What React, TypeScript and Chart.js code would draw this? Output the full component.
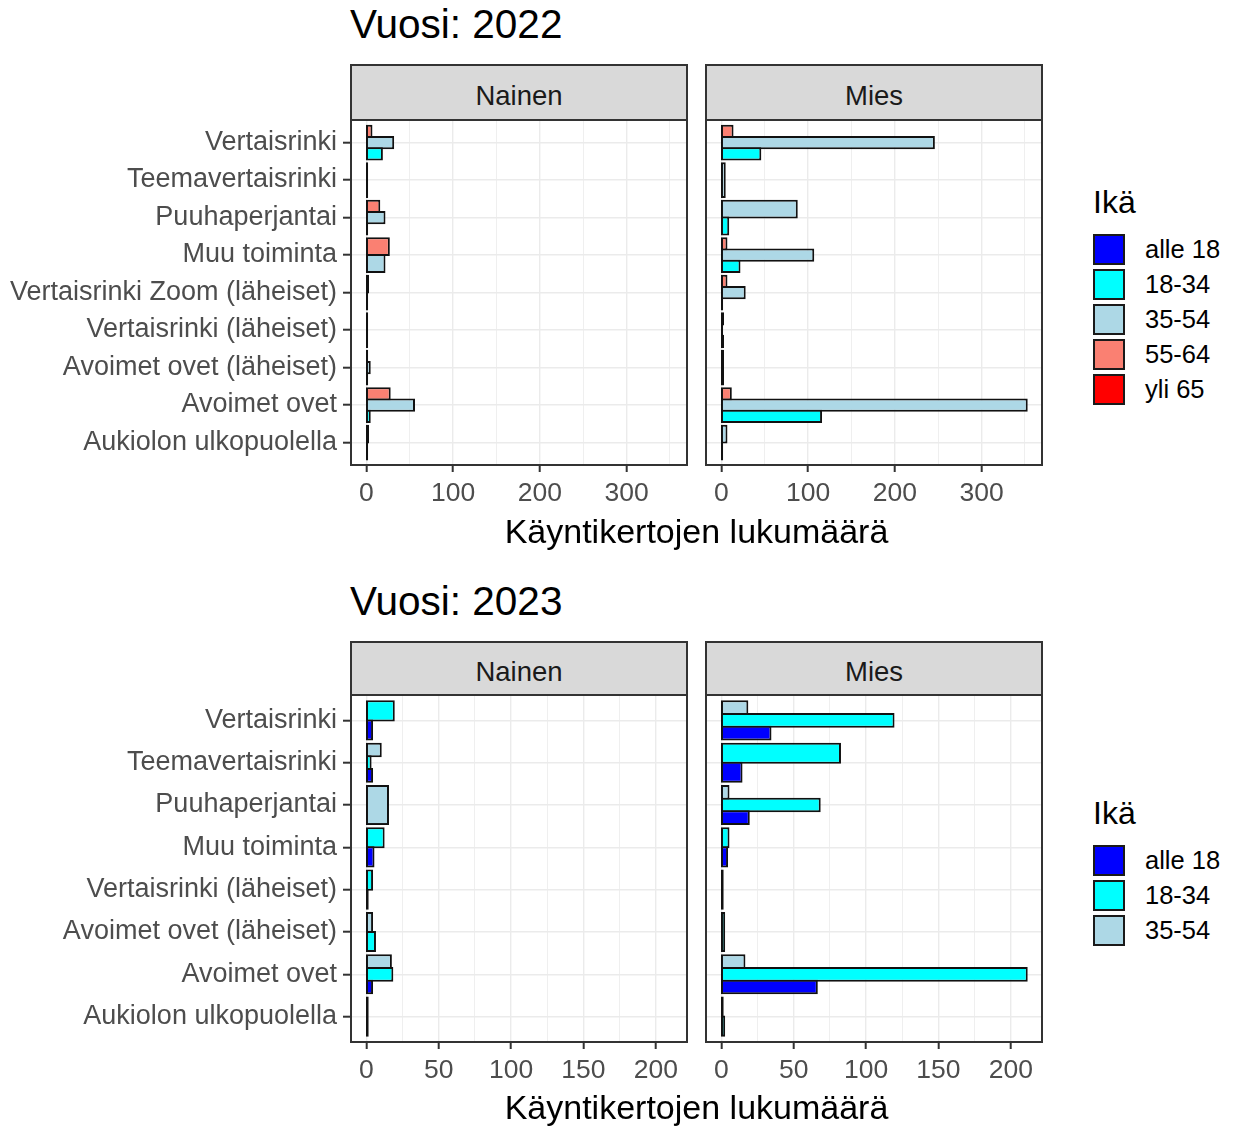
import React, { useEffect, useRef } from 'react';
import { Chart, registerables, BarController } from 'chart.js';

Chart.register(...registerables);

// Bar controller that places each bar between its own y0..y1 band (ggplot-style dodge
// where only the age groups present in a category share its width) and mimics a
// centred 2px outline.
class DodgeBarController extends (BarController as any) {
  static id = 'dodgeBar';
  _calculateBarIndexPixels(index: number, ruler: any) {
    const scale = ruler.scale;
    const raw: any = (this as any).getDataset().data[index];
    const p0 = scale.getPixelForValue(raw.y0);
    const p1 = scale.getPixelForValue(raw.y1);
    const lo = Math.min(p0, p1) - 1;
    const hi = Math.max(p0, p1) + 1;
    return { base: lo, head: hi, center: (lo + hi) / 2, size: hi - lo };
  }
  _calculateBarValuePixels(index: number) {
    const r: any = super._calculateBarValuePixels(index);
    const dir = r.head >= r.base ? 1 : -1;
    const base = r.base - dir;
    const head = r.head + dir;
    return { size: head - base, base, head, center: (base + head) / 2 };
  }
}
Chart.register(DodgeBarController as any);

const FONT = "'Liberation Sans', Arial, Helvetica, sans-serif";
Chart.defaults.font.family = FONT;

// ---------------- DATA ----------------
const ageGroups = ['alle 18', '18-34', '35-54', '55-64', 'yli 65'];
const ageColors = ['#0000FF', '#00FFFF', '#ADD8E6', '#FA8072', '#FF0000'];
const legendGroups2022 = ['alle 18', '18-34', '35-54', '55-64', 'yli 65'];
const legendGroups2023 = ['alle 18', '18-34', '35-54'];

const facets = ['Nainen', 'Mies'];
const xTitle = 'Käyntikertojen lukumäärä';
const legendTitle = 'Ikä';

// categories listed top to bottom
const activities2022 = [
  'Vertaisrinki',
  'Teemavertaisrinki',
  'Puuhaperjantai',
  'Muu toiminta',
  'Vertaisrinki Zoom (läheiset)',
  'Vertaisrinki (läheiset)',
  'Avoimet ovet (läheiset)',
  'Avoimet ovet',
  'Aukiolon ulkopuolella',
];
const activities2023 = [
  'Vertaisrinki',
  'Teemavertaisrinki',
  'Puuhaperjantai',
  'Muu toiminta',
  'Vertaisrinki (läheiset)',
  'Avoimet ovet (läheiset)',
  'Avoimet ovet',
  'Aukiolon ulkopuolella',
];

// 2022 – Nainen
const nainen2022_alle18 = [null, null, null, null, null, null, null, null, null];
const nainen2022_18_34 = [18, null, 1, null, 1, null, 1, 4, 1];
const nainen2022_35_54 = [31, 1, 21, 21, 2, 1, 4, 55, 2];
const nainen2022_55_64 = [6, null, 15, 26, null, null, null, 27, null];
const nainen2022_yli65 = [null, null, null, null, null, null, 1, null, null];

// 2022 – Mies
const mies2022_alle18 = [null, null, null, null, null, null, null, null, null];
const mies2022_18_34 = [45, null, 8, 21, 1, 2, null, 115, 1];
const mies2022_35_54 = [245, 4, 87, 106, 27, 1, 2, 352, 6];
const mies2022_55_64 = [13, null, null, 6, 6, 2, null, 11, null];
const mies2022_yli65 = [null, null, null, null, null, null, null, null, null];

// 2023 – Nainen
const nainen2023_alle18 = [4, 4, null, 5, 1, null, 4, null];
const nainen2023_18_34 = [19, 3, null, 12, 4, 6, 18, 1];
const nainen2023_35_54 = [null, 10, 15, null, null, 4, 17, null];

// 2023 – Mies
const mies2023_alle18 = [34, 14, 19, 4, null, null, 66, null];
const mies2023_18_34 = [119, 82, 68, 5, 1, 2, 211, 2];
const mies2023_35_54 = [18, null, 5, null, null, null, 16, 1];

// x axis ticks
const xMajor2022 = [0, 100, 200, 300];
const xMinor2022 = [50, 150, 250, 350];
const xMajor2023 = [0, 50, 100, 150, 200];
const xMinor2023 = [25, 75, 125, 175];

const none2023 = activities2023.map(() => null);

// ---------------- LAYOUT ----------------
type Rect = { x: number; y: number; w: number; h: number };

type Series = (number | null)[][];

function buildDatasets(cats: string[], series: Series) {
  const N = cats.length;
  const datasets: any[] = ageGroups.map((g, gi) => ({
    type: 'dodgeBar',
    label: g,
    indexAxis: 'y',
    backgroundColor: ageColors[gi],
    borderColor: '#111111',
    borderWidth: 2,
    borderSkipped: false,
    inflateAmount: 0,
    data: [] as any[],
  }));
  cats.forEach((_, k) => {
    const present = series
      .map((s, gi) => (s[k] !== null && s[k] !== undefined ? gi : -1))
      .filter((gi) => gi >= 0);
    const n = present.length;
    const center = N - k;
    present.forEach((gi, j) => {
      const y0 = center - 0.45 + (j * 0.9) / n;
      const y1 = y0 + 0.9 / n;
      datasets[gi].data.push({ x: series[gi][k], y: (y0 + y1) / 2, y0, y1 });
    });
  });
  return datasets.filter((d) => d.data.length > 0);
}

const panelBorder = {
  id: 'panelBorder',
  afterDraw(chart: any) {
    const { ctx, chartArea: a } = chart;
    ctx.save();
    ctx.strokeStyle = '#333333';
    ctx.lineWidth = 2;
    ctx.strokeRect(a.left, a.top, a.right - a.left, a.bottom - a.top);
    ctx.restore();
  },
};

const PAD_TOP = 25;
const X_AXIS_H = 45;
const PAD_BOTTOM = 5;
const SIDE = 20;

function PanelChart(props: {
  rect: Rect;
  cats: string[];
  series: Series;
  xMax: number;
  major: number[];
  minor: number[];
  showY: boolean;
}) {
  const { rect, cats, series, xMax, major, minor, showY } = props;
  const ref = useRef<HTMLCanvasElement>(null);
  const canvasLeft = showY ? 0 : rect.x - SIDE;
  const canvasTop = rect.y - PAD_TOP;
  const cw = rect.x + rect.w + SIDE - canvasLeft;
  const ch = PAD_TOP + rect.h + X_AXIS_H + PAD_BOTTOM;

  useEffect(() => {
    if (!ref.current) return;
    const N = cats.length;
    const xTicks = [...major, ...minor].sort((a, b) => a - b);
    const isMajor = (v: number) => major.includes(v);
    const chart = new Chart(ref.current, {
      type: 'bar',
      data: { datasets: buildDatasets(cats, series) as any },
      options: {
        indexAxis: 'y',
        animation: false,
        responsive: false,
        devicePixelRatio: 1,
        layout: {
          padding: { top: PAD_TOP, bottom: PAD_BOTTOM, left: showY ? 0 : SIDE, right: SIDE },
        },
        plugins: { legend: { display: false }, tooltip: { enabled: false }, title: { display: false } },
        scales: {
          x: {
            type: 'linear',
            offset: false,
            min: -0.05 * xMax,
            max: 1.05 * xMax,
            afterBuildTicks: (s: any) => {
              s.ticks = xTicks.map((v) => ({ value: v }));
            },
            afterFit: (s: any) => {
              s.height = X_AXIS_H;
            },
            border: { display: false },
            grid: {
              offset: false,
              color: '#EBEBEB',
              lineWidth: (c: any) => (isMajor(c.tick?.value) ? 1.4 : 0.8),
              drawTicks: true,
              tickLength: 7,
              tickWidth: 2,
              tickColor: (c: any) => (isMajor(c.tick?.value) ? '#333333' : 'rgba(0,0,0,0)'),
            },
            ticks: {
              autoSkip: false,
              maxRotation: 0,
              padding: 6,
              color: '#4D4D4D',
              font: { size: 26.5, family: FONT },
              callback: (v: any) => (isMajor(v) ? String(v) : ''),
            },
          },
          y: {
            type: 'linear',
            offset: false,
            min: 0.4,
            max: N + 0.6,
            afterBuildTicks: (s: any) => {
              s.ticks = cats.map((_, k) => ({ value: N - k }));
            },
            afterFit: (s: any) => {
              s.width = showY ? rect.x : 0;
            },
            border: { display: false },
            grid: {
              offset: false,
              color: '#EBEBEB',
              lineWidth: 1.4,
              drawTicks: showY,
              tickLength: 8,
              tickWidth: 2,
              tickColor: '#333333',
            },
            ticks: {
              display: showY,
              autoSkip: false,
              padding: 6,
              color: '#4D4D4D',
              font: { size: 27, family: FONT },
              callback: (v: any) => cats[N - Math.round(v)] ?? '',
            },
          },
        },
      } as any,
      plugins: [panelBorder],
    });
    return () => chart.destroy();
  }, []);

  return (
    <canvas
      ref={ref}
      width={cw}
      height={ch}
      style={{ position: 'absolute', left: canvasLeft, top: canvasTop, width: cw, height: ch }}
    />
  );
}

function Strip(props: { rect: Rect; top: number; label: string }) {
  const { rect, top, label } = props;
  return (
    <div
      style={{
        position: 'absolute',
        left: rect.x - 1,
        top,
        width: rect.w + 2,
        height: rect.y - top + 1,
        boxSizing: 'border-box',
        background: '#D9D9D9',
        border: '2px solid #333333',
        display: 'flex',
        alignItems: 'center',
        justifyContent: 'center',
        paddingTop: 6,
        fontSize: 27.5,
        color: '#1A1A1A',
        fontFamily: FONT,
      }}
    >
      {label}
    </div>
  );
}

function Legend(props: { top: number; groups: string[] }) {
  const { top, groups } = props;
  return (
    <div style={{ position: 'absolute', left: 1093, top, fontFamily: FONT }}>
      <div style={{ fontSize: 32, lineHeight: '32px', color: '#000', height: 46 }}>{legendTitle}</div>
      {groups.map((g) => {
        const gi = ageGroups.indexOf(g);
        return (
          <div key={g} style={{ display: 'flex', alignItems: 'center', height: 35 }}>
            <div
              style={{
                width: 32,
                height: 31,
                boxSizing: 'border-box',
                background: ageColors[gi],
                border: '2px solid #1A1A1A',
              }}
            />
            <div style={{ marginLeft: 20, fontSize: 25.5, color: '#000' }}>{g}</div>
          </div>
        );
      })}
    </div>
  );
}

function YearBlock(props: {
  year: string;
  titleTop: number;
  stripTop: number;
  left: Rect;
  right: Rect;
  cats: string[];
  women: Series;
  men: Series;
  major: number[];
  minor: number[];
  axisTitleTop: number;
  legendTop: number;
  legendGroups: string[];
}) {
  const p = props;
  const all = [...p.women, ...p.men].flat().filter((v) => v !== null) as number[];
  const xMax = Math.max(...all);
  return (
    <>
      <div
        style={{
          position: 'absolute',
          left: 350,
          top: p.titleTop,
          fontSize: 40.5,
          lineHeight: '40px',
          color: '#000',
          fontFamily: FONT,
          whiteSpace: 'nowrap',
        }}
      >
        {'Vuosi: ' + p.year}
      </div>
      <PanelChart rect={p.left} cats={p.cats} series={p.women} xMax={xMax} major={p.major} minor={p.minor} showY={true} />
      <PanelChart rect={p.right} cats={p.cats} series={p.men} xMax={xMax} major={p.major} minor={p.minor} showY={false} />
      <Strip rect={p.left} top={p.stripTop} label={facets[0]} />
      <Strip rect={p.right} top={p.stripTop} label={facets[1]} />
      <div
        style={{
          position: 'absolute',
          left: p.left.x,
          width: p.right.x + p.right.w - p.left.x,
          top: p.axisTitleTop,
          textAlign: 'center',
          fontSize: 34,
          lineHeight: '34px',
          color: '#000',
          fontFamily: FONT,
          whiteSpace: 'nowrap',
        }}
      >
        {xTitle}
      </div>
      <Legend top={p.legendTop} groups={p.legendGroups} />
    </>
  );
}

export default function App() {
  const women2022: Series = [nainen2022_alle18, nainen2022_18_34, nainen2022_35_54, nainen2022_55_64, nainen2022_yli65];
  const men2022: Series = [mies2022_alle18, mies2022_18_34, mies2022_35_54, mies2022_55_64, mies2022_yli65];
  const women2023: Series = [nainen2023_alle18, nainen2023_18_34, nainen2023_35_54, none2023, none2023];
  const men2023: Series = [mies2023_alle18, mies2023_18_34, mies2023_35_54, none2023, none2023];
  return (
    <div
      style={{
        position: 'absolute',
        left: 0,
        top: 0,
        width: 1233,
        height: 1128,
        background: '#FFFFFF',
        overflow: 'hidden',
        fontFamily: FONT,
      }}
    >
      <YearBlock
        year="2022"
        titleTop={4}
        stripTop={64}
        left={{ x: 351, y: 120, w: 336, h: 345 }}
        right={{ x: 706, y: 120, w: 336, h: 345 }}
        cats={activities2022}
        women={women2022}
        men={men2022}
        major={xMajor2022}
        minor={xMinor2022}
        axisTitleTop={514}
        legendTop={186}
        legendGroups={legendGroups2022}
      />
      <YearBlock
        year="2023"
        titleTop={581}
        stripTop={641}
        left={{ x: 351, y: 695, w: 336, h: 347 }}
        right={{ x: 706, y: 695, w: 336, h: 347 }}
        cats={activities2023}
        women={women2023}
        men={men2023}
        major={xMajor2023}
        minor={xMinor2023}
        axisTitleTop={1090}
        legendTop={797}
        legendGroups={legendGroups2023}
      />
    </div>
  );
}
